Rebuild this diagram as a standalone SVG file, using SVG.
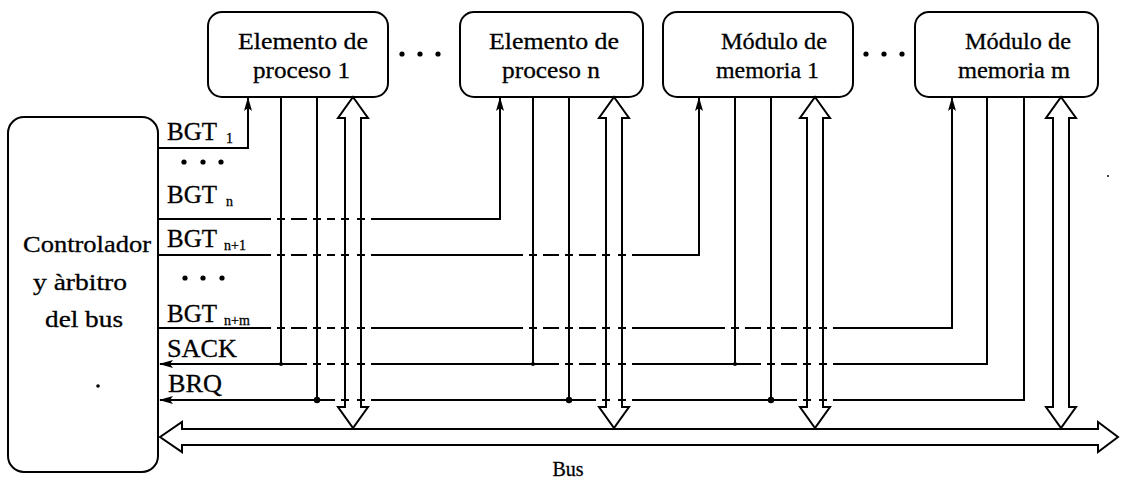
<svg xmlns="http://www.w3.org/2000/svg" xmlns:xlink="http://www.w3.org/1999/xlink" width="1126" height="484" viewBox="0 0 1126 484">
<style>
.box{fill:none;stroke:#000;stroke-width:2}
.ln{fill:none;stroke:#000;stroke-width:2}
.hol{fill:none;stroke:#000;stroke-width:2;stroke-linejoin:miter}
.t{font-family:"Liberation Serif","Times New Roman",serif;font-size:24px;fill:#000;stroke:#000;stroke-width:0.3}
.lb{font-family:"Liberation Serif","Times New Roman",serif;font-size:25px;fill:#000;stroke:#000;stroke-width:0.3}
.sub{font-family:"Liberation Serif","Times New Roman",serif;font-size:14px;fill:#000;stroke:#000;stroke-width:0.3}
.gp{fill:#fff}
.dot{fill:#000}
</style>
<defs>
<marker id="ah" viewBox="0 0 14 8" refX="13" refY="4" markerWidth="14" markerHeight="8" markerUnits="userSpaceOnUse" orient="auto">
<path d="M0,0 L14,4 L0,8 L3,4 Z" fill="#000"/>
</marker>
<polygon id="dbl" points="0,97 15,118 8,118 8,407 15,407 0,428 -15,407 -8,407 -8,118 -15,118"/>
<g id="gap"><rect class="gp" x="-10" y="-3" width="6" height="6"/><rect class="gp" x="4" y="-3" width="6" height="6"/></g>
</defs>

<g id="controller">
<rect class="box" x="8" y="117" width="150" height="355" rx="16"/>
<text class="t" x="23" y="252" textLength="128" lengthAdjust="spacingAndGlyphs">Controlador</text>
<text class="t" x="33" y="290" textLength="94" lengthAdjust="spacingAndGlyphs">y àrbitro</text>
<text class="t" x="45" y="327" textLength="78" lengthAdjust="spacingAndGlyphs">del bus</text>
<circle class="dot" cx="98" cy="386" r="1.8"/>
</g>

<g id="pe1">
<rect class="box" x="208" y="12" width="180" height="85" rx="14"/>
<text class="t" x="238" y="49" textLength="130" lengthAdjust="spacingAndGlyphs">Elemento de</text>
<text class="t" x="253" y="78" textLength="97" lengthAdjust="spacingAndGlyphs">proceso 1</text>
</g>
<g id="pen">
<rect class="box" x="460" y="12" width="183" height="85" rx="14"/>
<text class="t" x="489" y="49" textLength="130" lengthAdjust="spacingAndGlyphs">Elemento de</text>
<text class="t" x="502" y="78" textLength="98" lengthAdjust="spacingAndGlyphs">proceso n</text>
</g>
<g id="mm1">
<rect class="box" x="663" y="12" width="190" height="85" rx="14"/>
<text class="t" x="721" y="49" textLength="106" lengthAdjust="spacingAndGlyphs">Módulo de</text>
<text class="t" x="716" y="78" textLength="103" lengthAdjust="spacingAndGlyphs">memoria 1</text>
</g>
<g id="mmm">
<rect class="box" x="915" y="12" width="183" height="85" rx="14"/>
<text class="t" x="965" y="49" textLength="106" lengthAdjust="spacingAndGlyphs">Módulo de</text>
<text class="t" x="958" y="78" textLength="112" lengthAdjust="spacingAndGlyphs">memoria m</text>
</g>

<g id="ellipses">
<circle class="dot" cx="402" cy="54" r="2.6"/><circle class="dot" cx="420" cy="54" r="2.6"/><circle class="dot" cx="438" cy="54" r="2.6"/>
<circle class="dot" cx="866" cy="54" r="2.6"/><circle class="dot" cx="884" cy="54" r="2.6"/><circle class="dot" cx="902" cy="54" r="2.6"/>
<circle class="dot" cx="184" cy="162" r="2.6"/><circle class="dot" cx="203" cy="162" r="2.6"/><circle class="dot" cx="221" cy="162" r="2.6"/>
<circle class="dot" cx="185" cy="278" r="2.6"/><circle class="dot" cx="203" cy="278" r="2.6"/><circle class="dot" cx="222" cy="278" r="2.6"/>
<circle class="dot" cx="1108" cy="176" r="1"/>
</g>

<g id="labels">
<text class="lb" x="167" y="140" textLength="50" lengthAdjust="spacingAndGlyphs">BGT</text><text class="sub" x="226" y="143">1</text>
<text class="lb" x="167" y="203" textLength="50" lengthAdjust="spacingAndGlyphs">BGT</text><text class="sub" x="226" y="206">n</text>
<text class="lb" x="167" y="247" textLength="50" lengthAdjust="spacingAndGlyphs">BGT</text><text class="sub" x="224" y="250">n+1</text>
<text class="lb" x="167" y="322" textLength="50" lengthAdjust="spacingAndGlyphs">BGT</text><text class="sub" x="224" y="325">n+m</text>
<text class="lb" x="167" y="357" textLength="70" lengthAdjust="spacingAndGlyphs">SACK</text>
<text class="lb" x="168" y="392" textLength="54" lengthAdjust="spacingAndGlyphs">BRQ</text>
<text class="t" x="568" y="476" text-anchor="middle" style="font-size:20px">Bus</text>
</g>

<g id="connectors">
<path class="ln" d="M158,148 H248 V98" marker-end="url(#ah)"/>
<path class="ln" d="M158,219 H500 V98" marker-end="url(#ah)"/>
<path class="ln" d="M158,255 H699 V98" marker-end="url(#ah)"/>
<path class="ln" d="M158,328 H952 V98" marker-end="url(#ah)"/>
<path class="ln" d="M987,97 V364 H160" marker-end="url(#ah)"/>
<path class="ln" d="M1024,97 V400 H160" marker-end="url(#ah)"/>
<path class="ln" d="M281,97 V364 M533,97 V364 M735,97 V364"/>
<path class="ln" d="M317,97 V400 M569,97 V400 M771,97 V400"/>

<use xlink:href="#gap" x="281" y="219"/><use xlink:href="#gap" x="317" y="219"/><use xlink:href="#gap" x="345" y="219"/><use xlink:href="#gap" x="361" y="219"/>

<use xlink:href="#gap" x="281" y="255"/><use xlink:href="#gap" x="317" y="255"/><use xlink:href="#gap" x="345" y="255"/><use xlink:href="#gap" x="361" y="255"/>
<use xlink:href="#gap" x="533" y="255"/><use xlink:href="#gap" x="569" y="255"/><use xlink:href="#gap" x="606" y="255"/><use xlink:href="#gap" x="622" y="255"/>

<use xlink:href="#gap" x="281" y="328"/><use xlink:href="#gap" x="317" y="328"/><use xlink:href="#gap" x="345" y="328"/><use xlink:href="#gap" x="361" y="328"/>
<use xlink:href="#gap" x="533" y="328"/><use xlink:href="#gap" x="569" y="328"/><use xlink:href="#gap" x="606" y="328"/><use xlink:href="#gap" x="622" y="328"/>
<use xlink:href="#gap" x="735" y="328"/><use xlink:href="#gap" x="771" y="328"/><use xlink:href="#gap" x="807" y="328"/><use xlink:href="#gap" x="823" y="328"/>

<use xlink:href="#gap" x="317" y="364"/><use xlink:href="#gap" x="345" y="364"/><use xlink:href="#gap" x="361" y="364"/>
<use xlink:href="#gap" x="569" y="364"/><use xlink:href="#gap" x="606" y="364"/><use xlink:href="#gap" x="622" y="364"/>
<use xlink:href="#gap" x="771" y="364"/><use xlink:href="#gap" x="807" y="364"/><use xlink:href="#gap" x="823" y="364"/>

<use xlink:href="#gap" x="345" y="400"/><use xlink:href="#gap" x="361" y="400"/>
<use xlink:href="#gap" x="606" y="400"/><use xlink:href="#gap" x="622" y="400"/>
<use xlink:href="#gap" x="807" y="400"/><use xlink:href="#gap" x="823" y="400"/>

<use class="hol" xlink:href="#dbl" x="353"/>
<use class="hol" xlink:href="#dbl" x="614"/>
<use class="hol" xlink:href="#dbl" x="815"/>
<use class="hol" xlink:href="#dbl" x="1061"/>

<polygon class="hol" points="160,437 182,422 182,429 1098,429 1098,422 1118,437 1098,452 1098,445 182,445 182,452"/>

<circle class="dot" cx="281" cy="364" r="2"/><circle class="dot" cx="533" cy="364" r="2"/><circle class="dot" cx="735" cy="364" r="2"/>
<circle class="dot" cx="317" cy="400" r="3.2"/><circle class="dot" cx="569" cy="400" r="3.2"/><circle class="dot" cx="771" cy="400" r="3.2"/>
</g>
</svg>
